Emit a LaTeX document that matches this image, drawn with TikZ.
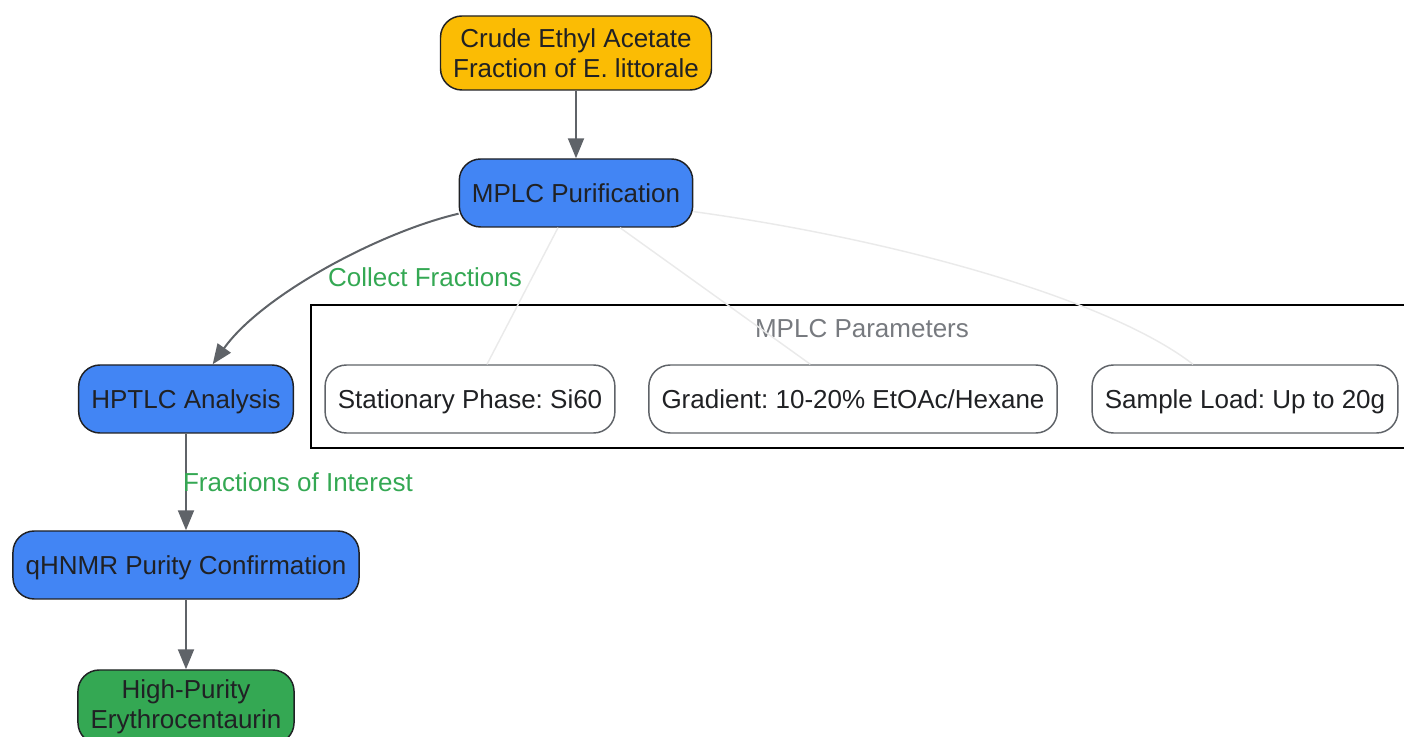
\documentclass[tikz,border=0pt]{standalone}
\usepackage{fontspec}
\setmainfont{Liberation Sans}
\usepackage{xcolor}
\usetikzlibrary{arrows.meta}
\frenchspacing

\definecolor{CrudeOrange}{HTML}{FBBC04}
\definecolor{StepBlue}{HTML}{4285F4}
\definecolor{ResultGreen}{HTML}{34A853}
\definecolor{LabelGreen}{HTML}{34A853}
\definecolor{EdgeGray}{HTML}{5F6368}
\definecolor{FaintGray}{HTML}{EAEAEA}
\definecolor{InkDark}{HTML}{202124}

\begin{document}
\begin{tikzpicture}[x=0.75pt, y=-0.75pt,
    every node/.style={font=\fontsize{19.5}{22.5}\selectfont, text=InkDark},
    flowbox/.style={draw=InkDark, line width=1.1pt, rounded corners=16pt,
        minimum height=51pt, inner xsep=9.5pt, align=center},
    oneline/.style={text height=18pt, text depth=4pt},
    parambox/.style={flowbox, oneline, draw=EdgeGray, fill=white},
    flowarrow/.style={draw=EdgeGray, line width=1.5pt,
        -{Triangle[width=12pt,length=15pt]}},
    faintline/.style={draw=FaintGray, line width=1.1pt},
    edgelabel/.style={text=LabelGreen}]

    % Page frame
    \useasboundingbox (0,0) rectangle (1404,737);
    \clip (0,0) rectangle (1404,737);

    % MPLC parameters cluster
    \draw [line width=1.5pt, black] (311,305) rectangle (1430,448);
    \node (clustertitle) at (862,329) [text=EdgeGray!85] {MPLC Parameters};

    % Main flow
    \node (crude) at (576,53) [flowbox, fill=CrudeOrange, minimum height=55.5pt]
        {Crude Ethyl Acetate\\Fraction of E. littorale};
    \node (mplc) at (576,193) [flowbox, oneline, fill=StepBlue] {MPLC Purification};
    \node (hptlc) at (186,399) [flowbox, oneline, fill=StepBlue] {HPTLC Analysis};
    \node (qhnmr) at (186,565) [flowbox, oneline, fill=StepBlue] {qHNMR Purity Confirmation};
    \node (pure) at (186,707) [flowbox, fill=ResultGreen, minimum height=55.5pt]
        {High-Purity\\Erythrocentaurin};

    % Parameter boxes
    \node (phase) at (470,399) [parambox] {Stationary Phase: Si60};
    \node (gradient) at (853,399) [parambox] {Gradient: 10-20\% EtOAc/Hexane};
    \node (load) at (1245,399) [parambox] {Sample Load: Up to 20g};

    % Faint links to the parameters
    \draw [faintline] ([xshift=-13.5pt]mplc.south) -- ([xshift=12.75pt]phase.north);
    \draw [faintline] ([xshift=33pt]mplc.south) -- ([xshift=-32pt]gradient.north);
    \draw [faintline] (mplc.351) .. controls (900,240) and (1110,300) .. ([xshift=-39pt]load.north);

    % Arrows
    \draw [flowarrow] (crude) -- (mplc);
    \draw [flowarrow] (mplc.190) .. controls (380,232) and (262,295) .. ([xshift=20pt]hptlc.north);
    \node (collect) at (425,277) [edgelabel] {Collect Fractions};
    \draw [flowarrow] (hptlc) -- (qhnmr)
        node (interest) [edgelabel, midway, anchor=west, inner xsep=0pt, xshift=-3pt] {Fractions of Interest};
    \draw [flowarrow] (qhnmr) -- (pure);
\end{tikzpicture}
\end{document}
